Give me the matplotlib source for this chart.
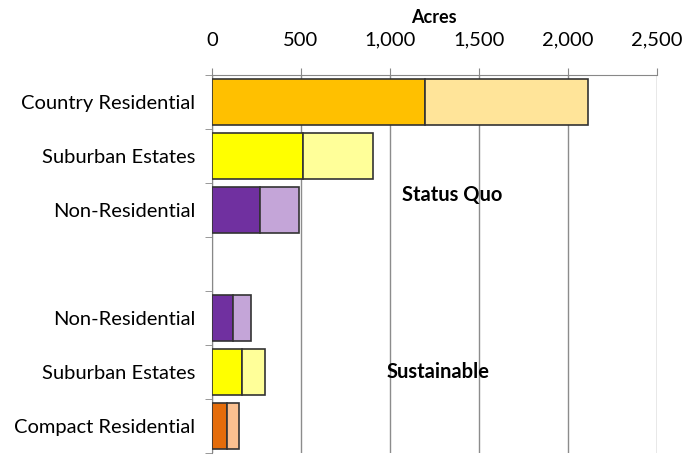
import numpy as np
import matplotlib.pyplot as plt
from matplotlib.ticker import FuncFormatter

# Land use per scenario (acres), top to bottom, blank slot between scenarios
labels = ['Country Residential', 'Suburban Estates', 'Non-Residential', '',
          'Non-Residential', 'Suburban Estates', 'Compact Residential']
dark_part = [1200, 510, 270, 0, 120, 170, 85]
light_part = [915, 395, 220, 0, 100, 130, 65]

dark_colors = ['#FFC000', '#FFFF00', '#7030A0', 'none', '#7030A0', '#FFFF00', '#E46C0A']
light_colors = ['#FFE499', '#FFFF99', '#C4A5D8', 'none', '#C4A5D8', '#FFFF99', '#FAC090']

plt.rcParams['font.family'] = ['Lato', 'DejaVu Sans']

fig = plt.figure(figsize=(6.84, 4.57), dpi=100)
ax = fig.add_axes([0.310, 0.009, 0.650, 0.827])

y = np.arange(len(labels))
ax.barh(y, dark_part, height=0.85, color=dark_colors, edgecolor='#333333', linewidth=1.2, zorder=3)
ax.barh(y, light_part, left=dark_part, height=0.85, color=light_colors, edgecolor='#333333',
        linewidth=1.2, zorder=3)
# hide the empty slot's outlines
for p in ax.patches:
    if p.get_width() == 0:
        p.set_visible(False)

ax.set_ylim(len(labels) - 0.5, -0.5)
ax.set_xlim(0, 2500)

ax.xaxis.tick_top()
ax.xaxis.set_label_position('top')
ax.set_xticks([0, 500, 1000, 1500, 2000, 2500])
ax.xaxis.set_major_formatter(FuncFormatter(lambda v, pos: '{:,.0f}'.format(v)))
ax.set_xlabel('Acres', fontsize=13, fontweight='bold', labelpad=6)
ax.tick_params(axis='x', labelsize=14.5, length=5, color='#888888', pad=14)
ax.grid(axis='x', color='#8c8c8c', linewidth=1, zorder=0)

ax.set_yticks(y)
ax.set_yticklabels(labels, fontsize=14.5)
ax.tick_params(axis='y', which='major', length=0, pad=12)
ax.set_yticks(np.arange(len(labels) + 1) - 0.5, minor=True)
ax.tick_params(axis='y', which='minor', length=5, color='#888888')

for s in ['right', 'bottom']:
    ax.spines[s].set_visible(False)
for s in ['left', 'top']:
    ax.spines[s].set_color('#888888')

ax.text(1348, 1.72, 'Status Quo', fontsize=14.5, fontweight='bold', ha='center', va='center')
ax.text(1270, 5.0, 'Sustainable', fontsize=14.5, fontweight='bold', ha='center', va='center')

plt.savefig('out.png', dpi=100)
